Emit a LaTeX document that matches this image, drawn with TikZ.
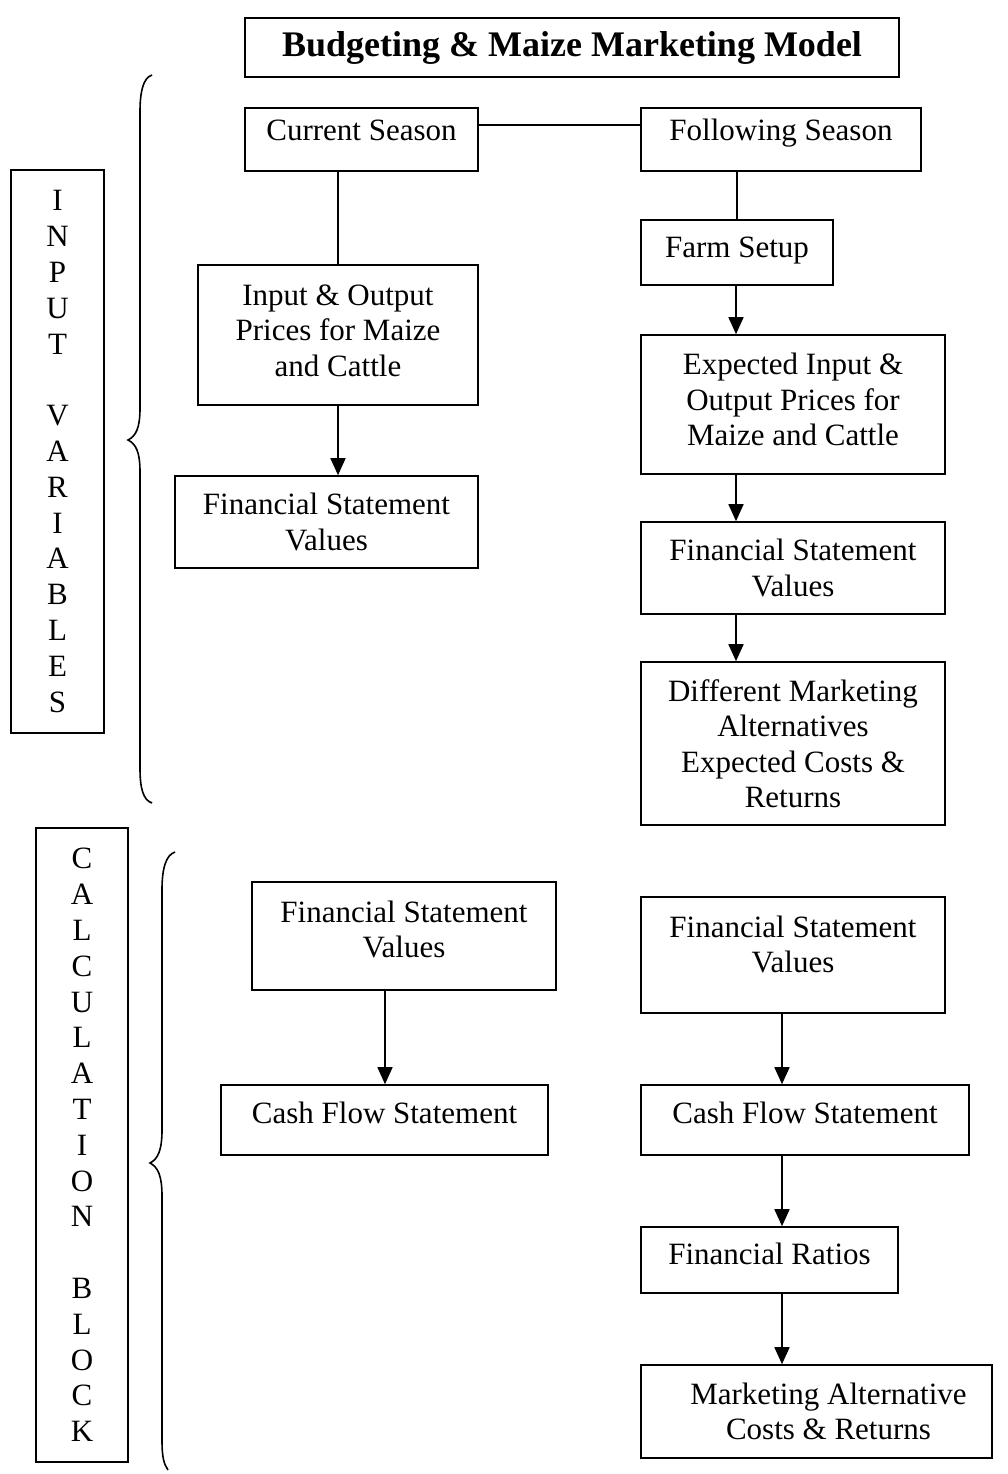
\documentclass[tikz,border=0pt]{standalone}
\usepackage{fontspec}
\setmainfont{Liberation Serif}
\usetikzlibrary{arrows.meta}
\begin{document}
\begin{tikzpicture}[x=1pt,y=-1pt,
  box/.style={draw, line width=1.6pt, align=center, inner sep=0pt,
    font=\fontsize{31}{35.5}\selectfont},
  side/.style={draw, line width=1.6pt, align=center, inner sep=0pt,
    font=\fontsize{31}{35.8}\selectfont},
  conn/.style={line width=1.6pt},
  arr/.style={line width=1.6pt, -{Triangle[width=15pt,length=17pt]}},
  brc/.style={line width=1.6pt}]
\useasboundingbox (0,0) rectangle (1007,1474);
% title
\node[box, minimum width=654pt, minimum height=59pt,
  font=\fontsize{36}{42}\selectfont\bfseries] (title) at (572,47.5) {Budgeting \& Maize Marketing Model};
% side labels
\node[side, minimum width=93pt, minimum height=563pt] (inv) at (57.5,451.5)
  {I\\N\\P\\U\\T\\[35.8pt]V\\A\\R\\I\\A\\B\\L\\E\\S};
\node[side, minimum width=92pt, minimum height=634pt] (calc) at (82,1145)
  {C\\A\\L\\C\\U\\L\\A\\T\\I\\O\\N\\[35.8pt]B\\L\\O\\C\\K};
% braces
\draw[brc] (152,75) .. controls (143,78) and (140,92) .. (140,112) -- (140,408)
  .. controls (140,428) and (136,436) .. (128,440)
  .. controls (136,444) and (140,452) .. (140,472) -- (140,768)
  .. controls (140,788) and (143,800) .. (152,803);
\draw[brc] (175,852) .. controls (166,855) and (162,868) .. (162,890) -- (162,1130)
  .. controls (162,1150) and (158,1159) .. (150,1163)
  .. controls (158,1167) and (162,1176) .. (162,1196) -- (162,1440)
  .. controls (162,1458) and (164,1464) .. (168,1470);
% input block nodes
\node[box, minimum width=233pt, minimum height=63pt, text height=22pt, text depth=19pt] (cur) at (361.5,139.5) {Current Season};
\node[box, minimum width=280pt, minimum height=63pt, text height=22pt, text depth=19pt] (fol) at (781,139.5) {Following Season};
\node[box, minimum width=280pt, minimum height=140pt] (inp) at (338,335) {Input \& Output\\Prices for Maize\\and Cattle\\[-26.5pt]\mbox{}};
\node[box, minimum width=303pt, minimum height=92pt] (fsva) at (326.5,522) {Financial Statement\\Values};
\node[box, minimum width=192pt, minimum height=65pt, text height=22pt, text depth=13pt] (farm) at (737,252.5) {Farm Setup};
\node[box, minimum width=304pt, minimum height=139pt] (exp) at (793,404.5) {Expected Input \&\\Output Prices for\\Maize and Cattle\\[-25.5pt]\mbox{}};
\node[box, minimum width=304pt, minimum height=92pt] (fsvb) at (793,568) {Financial Statement\\Values};
\node[box, minimum width=304pt, minimum height=163pt] (diff) at (793,743.5) {Different Marketing\\Alternatives\\Expected Costs \&\\Returns};
% calculation block nodes
\node[box, minimum width=304pt, minimum height=108pt] (fsvc) at (404,936) {Financial Statement\\Values\\[-21.5pt]\mbox{}};
\node[box, minimum width=327pt, minimum height=70pt, text height=22pt, text depth=16pt] (cfa) at (384.5,1120) {Cash Flow Statement};
\node[box, minimum width=304pt, minimum height=116pt] (fsvd) at (793,955) {Financial Statement\\Values\\[-13.5pt]\mbox{}};
\node[box, minimum width=328pt, minimum height=70pt, text height=22pt, text depth=16pt] (cfb) at (805,1120) {Cash Flow Statement};
\node[box, minimum width=257pt, minimum height=66pt, text height=22pt, text depth=14pt] (rat) at (769.5,1260) {Financial Ratios};
\node[box, minimum width=351pt, minimum height=93pt] (mac) at (816.5,1411.5) {\hspace*{24pt}Marketing Alternative\\\hspace*{24pt}Costs \& Returns};
% connectors
\draw[conn] ([yshift=14.5pt]cur.east) -- ([yshift=14.5pt]fol.west);
\draw[conn] (inp.north |- cur.south) -- (inp.north);
\draw[arr] (inp.south) -- (inp.south |- fsva.north);
\draw[conn] (farm.north |- fol.south) -- (farm.north);
\draw[arr] ([xshift=-1pt]farm.south) -- ([xshift=-1pt]farm.south |- exp.north);
\draw[arr] ([xshift=-1pt]farm.south |- exp.south) -- ([xshift=-1pt]farm.south |- fsvb.north);
\draw[arr] ([xshift=-1pt]farm.south |- fsvb.south) -- ([xshift=-1pt]farm.south |- diff.north);
\draw[arr] ([xshift=0.5pt]cfa.north |- fsvc.south) -- ([xshift=0.5pt]cfa.north);
\draw[arr] ([xshift=-11pt]fsvd.south) -- ([xshift=-11pt]fsvd.south |- cfb.north);
\draw[arr] ([xshift=-11pt]fsvd.south |- cfb.south) -- ([xshift=-11pt]fsvd.south |- rat.north);
\draw[arr] ([xshift=-11pt]fsvd.south |- rat.south) -- ([xshift=-11pt]fsvd.south |- mac.north);
\end{tikzpicture}
\end{document}
